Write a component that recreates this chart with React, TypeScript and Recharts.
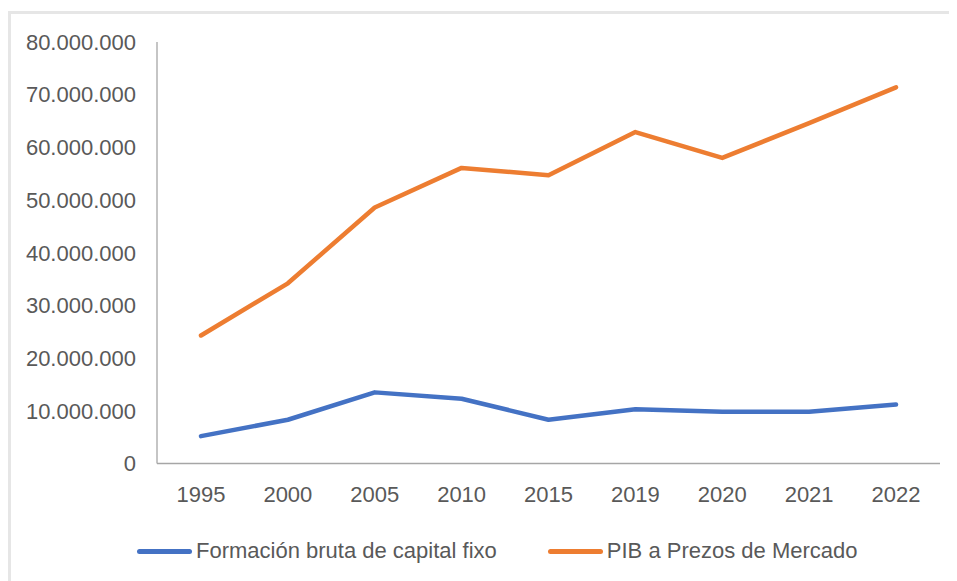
import { CartesianGrid, Legend, Line, LineChart, XAxis, YAxis } from "recharts";

// Anos e séries (valores en euros)
const anos = ["1995", "2000", "2005", "2010", "2015", "2019", "2020", "2021", "2022"];
const fbcf = [5200000, 8300000, 13500000, 12300000, 8300000, 10300000, 9800000, 9800000, 11200000];
const pib = [24300000, 34200000, 48600000, 56100000, 54700000, 62900000, 58000000, 64600000, 71400000];
const ticksY = [0, 10000000, 20000000, 30000000, 40000000, 50000000, 60000000, 70000000, 80000000];

const series = [
  { key: "fbcf", label: "Formación bruta de capital fixo", cor: "#4472C4" },
  { key: "pib", label: "PIB a Prezos de Mercado", cor: "#ED7D31" },
];

const data = anos.map((ano, i) => ({ ano, fbcf: fbcf[i], pib: pib[i] }));

const FONT = "'Liberation Sans', Arial, sans-serif";
const fmtMiles = (v: number) => String(Math.round(v)).replace(/\B(?=(\d{3})+(?!\d))/g, ".");

function Lenda() {
  return (
    <div style={{ display: "flex", alignItems: "center", height: 60, paddingLeft: 129, fontFamily: FONT, fontSize: 22, color: "#595959" }}>
      {series.map((s) => (
        <div key={s.key} style={{ display: "flex", alignItems: "center", marginRight: 51 }}>
          <span style={{ display: "inline-block", width: 55, height: 5, borderRadius: 3, background: s.cor, marginRight: 4 }} />
          <span>{s.label}</span>
        </div>
      ))}
    </div>
  );
}

export default function App() {
  return (
    <div style={{ position: "relative", width: 949, height: 573 }}>
      <div style={{ position: "absolute", top: 3, left: 0, right: -8, bottom: -20, borderTop: "3px solid #e6e6e6", borderLeft: "3px solid #e6e6e6" }} />
      <div style={{ position: "absolute", top: 0, left: 0 }}>
        <LineChart width={949} height={573} data={data} margin={{ top: 34, right: 17, left: 0, bottom: 0 }}>
          <CartesianGrid horizontal={false} vertical={false} />
          <XAxis
            dataKey="ano"
            height={57.5}
            padding={{ left: 44, right: 44 }}
            tickSize={0}
            tickMargin={23}
            tick={{ fontSize: 22, fill: "#595959", fontFamily: FONT }}
            axisLine={{ stroke: "#a6a6a6", strokeWidth: 1.3 }}
          />
          <YAxis
            width={149}
            domain={[0, 80000000]}
            ticks={ticksY}
            tickFormatter={(v) => fmtMiles(Number(v))}
            tickSize={0}
            tickMargin={21}
            tick={{ fontSize: 22, fill: "#595959", fontFamily: FONT }}
            axisLine={{ stroke: "#a6a6a6", strokeWidth: 1.3 }}
          />
          <Legend verticalAlign="bottom" height={60} content={() => <Lenda />} />
          {series.map((s) => (
            <Line
              key={s.key}
              dataKey={s.key}
              name={s.label}
              type="linear"
              stroke={s.cor}
              strokeWidth={4.5}
              strokeLinecap="round"
              strokeLinejoin="round"
              dot={false}
              activeDot={false}
              isAnimationActive={false}
            />
          ))}
        </LineChart>
      </div>
    </div>
  );
}
